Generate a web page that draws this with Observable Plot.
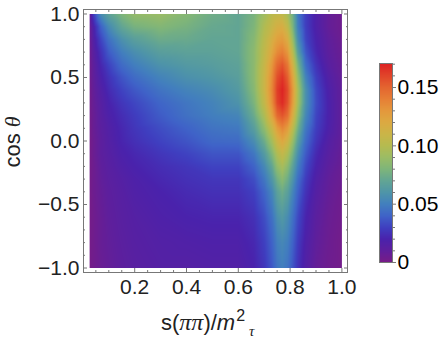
<!DOCTYPE html>
<html>
<head>
<meta charset="utf-8">
<style>
html,body{margin:0;padding:0;background:#fff}
#wrap{position:relative;width:448px;height:342px;overflow:hidden}
#wrap svg{position:absolute;top:0;background:transparent}
</style>
<script src="https://cdn.jsdelivr.net/npm/d3@7"></script>
<script src="https://cdn.jsdelivr.net/npm/@observablehq/plot@0.6"></script>
</head>
<body>
<div id="wrap"></div>
<script>
const FONT = '"Liberation Sans", Arial, sans-serif';
const SERIF = '"Liberation Serif", serif';
const sValues = [0.026,0.04,0.07,0.1,0.15,0.2,0.3,0.4,0.5,0.6,0.66,0.7,0.73,0.75,0.77,0.79,0.81,0.83,0.86,0.9,0.95,1.0];
const cosValues = [1,0.9,0.8,0.7,0.6,0.5,0.4,0.3,0.2,0.1,0,-0.1,-0.2,-0.3,-0.4,-0.6,-0.8,-1];
const density = [
[.005,.028,.056,.068,.08,.088,.09,.083,.075,.07,.078,.092,.102,.105,.105,.095,.075,.048,.03,.018,.008,.004],
[.005,.018,.04,.055,.07,.078,.082,.078,.072,.07,.08,.098,.108,.115,.117,.105,.08,.05,.03,.018,.008,.004],
[.005,.015,.032,.045,.058,.066,.074,.073,.07,.07,.083,.102,.116,.125,.128,.118,.09,.056,.032,.02,.01,.005],
[.004,.012,.026,.038,.05,.057,.066,.068,.068,.07,.085,.105,.122,.135,.14,.13,.102,.065,.037,.022,.011,.006],
[.003,.01,.022,.031,.043,.05,.059,.063,.065,.068,.085,.108,.13,.148,.155,.143,.114,.078,.044,.026,.013,.007],
[.003,.009,.019,.026,.036,.043,.052,.058,.061,.066,.085,.11,.135,.157,.165,.152,.124,.088,.052,.03,.016,.008],
[.002,.008,.016,.023,.031,.037,.046,.052,.056,.063,.083,.11,.137,.162,.17,.158,.13,.095,.058,.033,.018,.009],
[.002,.007,.014,.02,.027,.032,.041,.047,.052,.059,.079,.106,.134,.16,.168,.156,.128,.094,.058,.034,.019,.009],
[.002,.006,.013,.018,.024,.029,.038,.045,.05,.053,.073,.097,.124,.148,.155,.146,.118,.086,.054,.032,.019,.009],
[.001,.006,.012,.016,.022,.027,.034,.04,.046,.048,.065,.086,.108,.127,.137,.128,.104,.076,.048,.03,.018,.009],
[.001,.005,.011,.015,.021,.025,.031,.036,.042,.043,.056,.074,.094,.112,.122,.112,.09,.066,.043,.027,.015,.008],
[.001,.005,.011,.014,.019,.022,.027,.031,.036,.036,.047,.063,.081,.098,.107,.097,.078,.057,.038,.023,.013,.007],
[.001,.004,.01,.013,.017,.02,.024,.027,.031,.031,.04,.054,.07,.087,.095,.085,.068,.05,.033,.02,.011,.006],
[.001,.004,.009,.012,.015,.018,.022,.025,.027,.027,.034,.047,.061,.076,.084,.075,.06,.044,.029,.017,.009,.005],
[.001,.004,.008,.011,.014,.017,.02,.023,.025,.025,.03,.041,.053,.067,.074,.067,.053,.04,.026,.015,.008,.004],
[.001,.003,.007,.01,.013,.015,.018,.02,.021,.021,.025,.034,.045,.057,.062,.056,.045,.033,.021,.012,.006,.003],
[.001,.003,.007,.009,.012,.014,.016,.017,.018,.018,.022,.03,.04,.05,.054,.05,.04,.029,.018,.01,.005,.002],
[.001,.003,.006,.008,.011,.013,.015,.015,.016,.016,.02,.027,.037,.046,.05,.046,.036,.026,.016,.008,.004,.002]
];
const colorStops = [0,.01,.02,.03,.04,.05,.06,.07,.08,.09,.10,.11,.12,.13,.14,.15,.16,.17];
const colorRange = ["#781c86","#5f1f9c","#4a22ac","#3f3fc0","#3f63c8","#427fbe","#4f95a8","#62a594","#7eb57a","#9bbc65","#b5bb50","#cab548","#dcaa42","#e4983c","#e67f36","#e46530","#e1452a","#dd2424"];
const xTicks = [0.2,0.4,0.6,0.8,1.0];
const xMinor = [0.05,0.1,0.15,0.25,0.3,0.35,0.45,0.5,0.55,0.65,0.7,0.75,0.85,0.9,0.95];
const yTicks = [-1,-0.5,0,0.5,1];
const yMinor = [-0.9,-0.8,-0.7,-0.6,-0.4,-0.3,-0.2,-0.1,0.1,0.2,0.3,0.4,0.6,0.7,0.8,0.9];
const barTicks = [0,0.05,0.10,0.15];
const barMinor = [.01,.02,.03,.04,.06,.07,.08,.09,.11,.12,.13,.14,.16,.17];

const samples = [];
cosValues.forEach((c,i)=>sValues.forEach((s,j)=>samples.push({s,c,v:density[i][j]})));

const GRAY = "#777", INK = "#222";
const colorScale = {type:"linear",domain:colorStops,range:colorRange,interpolate:"rgb",clamp:true};
const blank = () => "";
const f1 = d3.format(".1f");

const main = Plot.plot({
  width:448,height:342,marginLeft:83,marginRight:101,marginTop:9,marginBottom:70,
  style:{fontFamily:FONT,fontSize:"21px",background:"transparent"},
  x:{domain:[0.0023,1.0216],axis:null},
  y:{domain:[-1.0354,1.0354],axis:null},
  color:colorScale,
  marks:[
    Plot.raster(samples,{x:"s",y:"c",fill:"v",interpolate:"barycentric",x1:0.026,x2:1.0,y1:-1,y2:1,pixelSize:1}),
    Plot.frame({stroke:GRAY,strokeWidth:1}),
    Plot.axisX({anchor:"bottom",ticks:xTicks,tickSize:-4,tickPadding:11,tickFormat:f1,stroke:GRAY,fill:INK,label:null}),
    Plot.axisX({anchor:"bottom",ticks:xMinor,tickSize:-2,tickFormat:blank,stroke:GRAY,label:null}),
    Plot.axisX({anchor:"top",ticks:xTicks,tickSize:-4,tickFormat:blank,stroke:GRAY,label:null}),
    Plot.axisX({anchor:"top",ticks:xMinor,tickSize:-2,tickFormat:blank,stroke:GRAY,label:null}),
    Plot.axisY({anchor:"left",ticks:yTicks,tickSize:-4,tickPadding:8,tickFormat:f1,stroke:GRAY,fill:INK,label:null}),
    Plot.axisY({anchor:"left",ticks:yMinor,tickSize:-2,tickFormat:blank,stroke:GRAY,label:null}),
    Plot.axisY({anchor:"right",ticks:yTicks,tickSize:-4,tickFormat:blank,stroke:GRAY,label:null}),
    Plot.axisY({anchor:"right",ticks:yMinor,tickSize:-2,tickFormat:blank,stroke:GRAY,label:null})
  ]
});
main.style.left = "0px";

const bar = Plot.plot({
  width:78,height:342,marginLeft:9,marginRight:56,marginTop:63,marginBottom:80,
  style:{fontFamily:FONT,fontSize:"21px",background:"transparent"},
  x:{domain:[0,1],axis:null},
  y:{domain:[0,0.1706],axis:null},
  color:colorScale,
  marks:[
    Plot.raster({x1:0,x2:1,y1:0,y2:0.1706,fill:(x,y)=>y,pixelSize:1}),
    Plot.frame({stroke:GRAY,strokeWidth:1}),
    Plot.axisY({anchor:"right",ticks:barTicks,tickSize:3,tickPadding:2,tickFormat:d=>d===0?"0":d.toFixed(2),stroke:GRAY,fill:"#000",label:null}),
    Plot.axisY({anchor:"right",ticks:barMinor,tickSize:2,tickFormat:blank,stroke:GRAY,label:null})
  ]
});
bar.style.left = "370px";

const wrap = document.getElementById("wrap");
wrap.append(main,bar);

const root = d3.select(main);
const xl = root.append("text").attr("x",161).attr("y",330).attr("fill",INK).attr("text-anchor","start")
  .style("font-family",FONT).style("font-size","22px");
xl.append("tspan").text("s(");
xl.append("tspan").text("ππ").style("font-family",SERIF).style("font-style","italic").style("font-size","24px");
xl.append("tspan").text(")/");
xl.append("tspan").text("m").style("font-style","italic");
xl.append("tspan").text("2").attr("dy",-9).attr("dx",1).style("font-size","16px");
xl.append("tspan").text("τ").attr("dy",15).attr("dx",4).style("font-size","15px").style("font-family",SERIF).style("font-style","italic");

const yl = root.append("text").attr("transform","translate(20,142) rotate(-90)").attr("fill",INK).attr("text-anchor","middle")
  .style("font-family",FONT).style("font-size","22px");
yl.append("tspan").text("cos ");
yl.append("tspan").text("θ").style("font-family",SERIF).style("font-style","italic");
</script>
</body>
</html>
